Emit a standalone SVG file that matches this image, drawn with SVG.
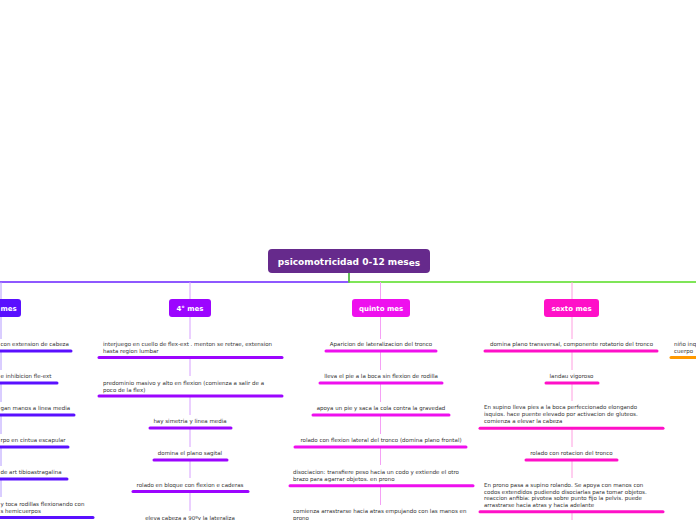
<svg xmlns="http://www.w3.org/2000/svg" width="696" height="520" viewBox="0 0 696 520">
<style>
.t{font-family:"DejaVu Sans",Verdana,sans-serif;font-size:5.5px;fill:#333}
.c{text-anchor:middle}
.n{font-family:"DejaVu Sans",Verdana,sans-serif;font-size:7px;font-weight:bold;fill:#fff;text-anchor:middle}
.u{stroke-width:3;stroke-linecap:round;fill:none}
.v{stroke-width:1;fill:none}
</style>
<rect width="696" height="520" fill="#fff"/>
<g id="connectors">
  <path d="M349,273V282H0" stroke="#6a22ff" stroke-width="1.5" fill="none"/>
  <path d="M349,273V282H696" stroke="#55dd22" stroke-width="1.5" fill="none"/>
  <path class="v" stroke="#b49bff" d="M1,282V299M1,317V339M1,352V370M1,384V402M1,416V434M1,448V466M1,480V497"/>
  <path class="v" stroke="#d7a0ff" d="M190,282V299M190,317V339M190,358V376M190,397V415M190,429V447M190,461V478M190,493V511"/>
  <path class="v" stroke="#f5a0f5" d="M380.5,282V299M380.5,317V339M380.5,352V370M380.5,384V402M380.5,416V434M380.5,448V465M380.5,487V505"/>
  <path class="v" stroke="#ff9ee0" d="M572,282V299M572,317V339M572,352V370M572,384V401M572,429V447M572,461V478M572,513V520"/>
</g>
<g id="root">
  <rect x="268" y="249" width="162" height="24" rx="4" fill="#662a8c"/>
  <text x="349" y="264.5" font-family="DejaVu Sans,Verdana,sans-serif" font-size="9" font-weight="bold" fill="#fff" text-anchor="middle">psicomotricidad 0-12 mes<tspan dy="1">es</tspan></text>
</g>
<g id="n3">
  <rect x="-40" y="299" width="61" height="18" rx="3" fill="#5a10ff"/>
  <text class="n" x="0.5" y="311" style="text-anchor:start">mes</text>
  <text class="t" x="0.5" y="346">con extension de cabeza</text>
  <line class="u" stroke="#5a10ff" x1="-5" y1="351" x2="71" y2="351"/>
  <text class="t" x="0.5" y="378">e inhibicion fle-ext</text>
  <line class="u" stroke="#5a10ff" x1="-5" y1="383" x2="57" y2="383"/>
  <text class="t" x="0.5" y="410">gan manos a linea media</text>
  <line class="u" stroke="#5a10ff" x1="-5" y1="415" x2="74" y2="415"/>
  <text class="t" x="0.5" y="442">rpo en cintua escapular</text>
  <line class="u" stroke="#5a10ff" x1="-5" y1="447" x2="68" y2="447"/>
  <text class="t" x="0.5" y="474">de art tibioastragalina</text>
  <line class="u" stroke="#5a10ff" x1="-5" y1="479" x2="67" y2="479"/>
  <text class="t" x="0.5" y="506">y toca rodillas flexionando con</text>
  <text class="t" x="0.5" y="512.5">s hemicuerpos</text>
  <line class="u" stroke="#5a10ff" x1="-5" y1="517.5" x2="93" y2="517.5"/>
</g>
<g id="n4">
  <rect x="169" y="299" width="42" height="18" rx="3" fill="#9c05ff"/>
  <text class="n" x="190" y="311">4° mes</text>
  <text class="t" x="103" y="346">interjuego en cuello de flex-ext . menton se retrae, extension</text>
  <text class="t" x="103" y="353">hasta region lumbar</text>
  <line class="u" stroke="#9c05ff" x1="99" y1="357.5" x2="282" y2="357.5"/>
  <text class="t" x="103" y="384.5">predominio masivo y alto en flexion (comienza a salir de a</text>
  <text class="t" x="103" y="391.5">poco de la flex)</text>
  <line class="u" stroke="#9c05ff" x1="99" y1="396" x2="282" y2="396"/>
  <text class="t c" x="190" y="423">hay simetria y linea media</text>
  <line class="u" stroke="#9c05ff" x1="150" y1="428" x2="231" y2="428"/>
  <text class="t c" x="190" y="455">domina el plano sagital</text>
  <line class="u" stroke="#9c05ff" x1="154" y1="460" x2="227" y2="460"/>
  <text class="t c" x="190" y="486.5">rolado en bloque con flexion e caderas</text>
  <line class="u" stroke="#9c05ff" x1="133" y1="491.5" x2="248" y2="491.5"/>
  <text class="t c" x="190" y="519.5">eleva cabeza a 90ºy la lateraliza</text>
</g>
<g id="n5">
  <rect x="352" y="299" width="58" height="18" rx="3" fill="#ee10ee"/>
  <text class="n" x="381" y="311">quinto mes</text>
  <text class="t c" x="381" y="346">Aparicion de lateralizacion del tronco</text>
  <line class="u" stroke="#ee10ee" x1="326" y1="351" x2="436" y2="351"/>
  <text class="t c" x="381" y="378">lleva el pie a la boca sin flexion de rodilla</text>
  <line class="u" stroke="#ee10ee" x1="320" y1="383" x2="442" y2="383"/>
  <text class="t c" x="381" y="410">apoya un pie y saca la cola contra la gravedad</text>
  <line class="u" stroke="#ee10ee" x1="313" y1="415" x2="449" y2="415"/>
  <text class="t c" x="381" y="442">rolado con flexion lateral del tronco (domina plano frontal)</text>
  <line class="u" stroke="#ee10ee" x1="295" y1="447" x2="466" y2="447"/>
  <text class="t" x="293" y="473.7">disociacion: transfiere peso hacia un codo y extiende el otro</text>
  <text class="t" x="293" y="480.7">brazo para agarrar objetos. en prono</text>
  <line class="u" stroke="#ee10ee" x1="290" y1="485.7" x2="473" y2="485.7"/>
  <text class="t" x="293" y="512.5">comienza arrastrarse hacia atras empujan<tspan dy="0.8">do con las manos en</tspan></text>
  <text class="t" x="293" y="519.5">prono</text>
</g>
<g id="n6">
  <rect x="544" y="299" width="55" height="18" rx="3" fill="#ff10c8"/>
  <text class="n" x="571.5" y="311">sexto mes</text>
  <text class="t c" x="571.5" y="346">domina plano transversal, componente rotatorio del tronco</text>
  <line class="u" stroke="#ff10c8" x1="485" y1="351" x2="657" y2="351"/>
  <text class="t c" x="571.5" y="378">landau vigoroso</text>
  <line class="u" stroke="#ff10c8" x1="546" y1="383" x2="598" y2="383"/>
  <text class="t" x="484" y="409.3">En supino lleva pies a la boca perfeccionado elongando</text>
  <text class="t" x="484" y="416">isquios. hace puente elevado por activacion de gluteos.</text>
  <text class="t" x="484" y="423">comienza a elevar la cabeza</text>
  <line class="u" stroke="#ff10c8" x1="480" y1="428.3" x2="663" y2="428.3"/>
  <text class="t c" x="571.5" y="454.7">rolado con rotacion del tronco</text>
  <line class="u" stroke="#ff10c8" x1="526" y1="460" x2="617" y2="460"/>
  <text class="t" x="484" y="487">En prono pasa a supino rolando. Se apoya con manos con</text>
  <text class="t" x="484" y="493.7">codos extendidos pudiendo disociarlas para tomar objetos.</text>
  <text class="t" x="484" y="500.3">reaccion anfibia: pivotea sobre punto fijo la pelvis. puede</text>
  <text class="t" x="484" y="507.3">arrastrarse hacia atras y hacia adelante</text>
  <line class="u" stroke="#ff10c8" x1="480" y1="511.7" x2="663" y2="511.7"/>
</g>
<g id="n7">
  <text class="t" x="674" y="346">niño inq</text>
  <text class="t" x="674" y="353">cuerpo</text>
  <line class="u" stroke="#ff9900" x1="671" y1="357.5" x2="700" y2="357.5"/>
</g>
</svg>
